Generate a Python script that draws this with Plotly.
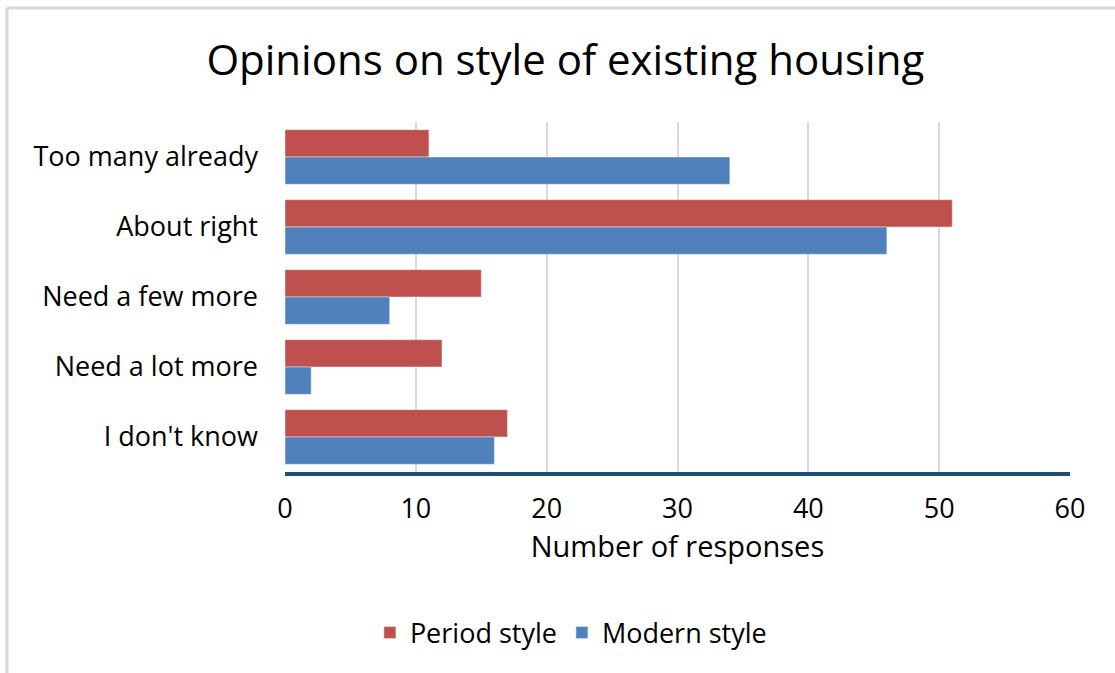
import plotly.graph_objects as go

categories = ["Too many already", "About right", "Need a few more", "Need a lot more", "I don't know"]
period_style = [11, 51, 15, 12, 17]
modern_style = [34, 46, 8, 2, 16]
x_ticks = [0, 10, 20, 30, 40, 50, 60]

W, H = 1115, 673
L, R, T, B = 285, 45, 122, 201
pw, ph = W - L - R, H - T - B

def px(x):
    return (x - L) / pw

def py(y):
    return (H - B - y) / ph

fig = go.Figure()
fig.add_trace(go.Bar(y=categories, x=period_style, orientation="h", name="Period style",
                     marker=dict(color="#C0504D")))
fig.add_trace(go.Bar(y=categories, x=modern_style, orientation="h", name="Modern style",
                     marker=dict(color="#4F81BD")))

font = "'Open Sans', Lato, sans-serif"
fig.update_layout(
    width=W, height=H,
    margin=dict(l=L, r=R, t=T, b=B),
    paper_bgcolor="white", plot_bgcolor="white",
    font=dict(family=font, color="#000000", size=24),
    title=dict(text="Opinions on style of existing housing", x=0.507, xref="container",
               xanchor="center", y=1 - 60 / H, yref="container", yanchor="middle",
               font=dict(size=42, family=font, color="#000000")),
    barmode="group", bargap=0.22, bargroupgap=0,
    showlegend=True,
    legend=dict(orientation="h", xref="container", yref="container", x=0.512, y=1 - 633 / H,
                xanchor="center", yanchor="middle", traceorder="normal",
                font=dict(size=27, family=font), itemwidth=30, entrywidth=0),
    xaxis=dict(range=[0, 60], tickvals=x_ticks, showgrid=True, gridcolor="#D9D9D9", gridwidth=2,
               showline=True, linecolor="#1F4E79", linewidth=4, zeroline=False,
               ticks="", ticklabelstandoff=10, tickfont=dict(size=27),
               title=dict(text="Number of responses", font=dict(size=29), standoff=10),
               fixedrange=True),
    yaxis=dict(autorange="reversed", showgrid=False, showline=False, zeroline=False,
               ticks="", ticklabelstandoff=26, tickfont=dict(size=27), fixedrange=True),
    shapes=[
        dict(type="line", xref="paper", yref="paper", x0=px(7), x1=px(1120), y0=py(8), y1=py(8),
             line=dict(color="#D9D9D9", width=3)),
        dict(type="line", xref="paper", yref="paper", x0=px(7), x1=px(7), y0=py(8), y1=py(680),
             line=dict(color="#D9D9D9", width=3)),
    ],
)

fig.write_html("out.html")
